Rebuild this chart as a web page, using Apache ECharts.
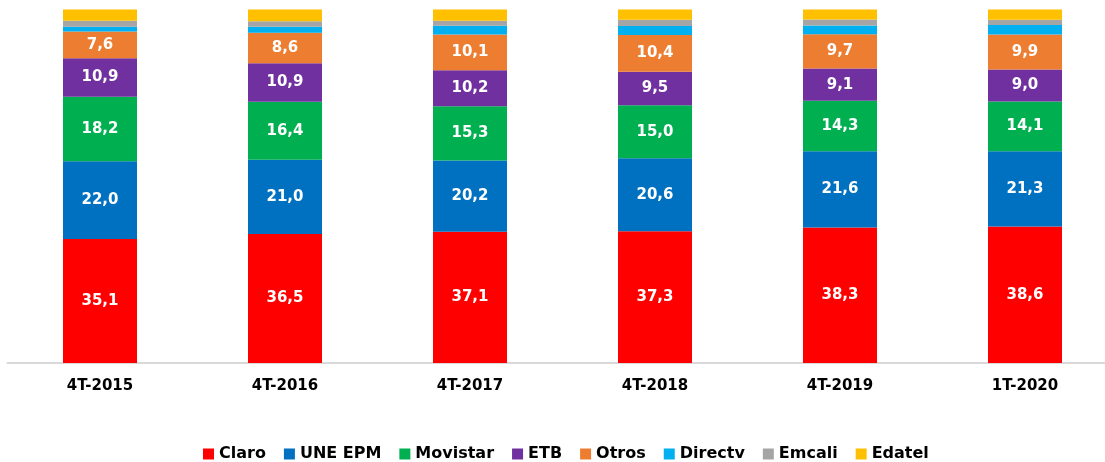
<!DOCTYPE html>
<html><head><meta charset="utf-8">
<script src="https://cdn.jsdelivr.net/npm/echarts@6/dist/echarts.min.js"></script>
<style>html,body{margin:0;padding:0;background:#fff;overflow:hidden}#c{width:1120px;height:462px}</style>
</head><body><div id="c"></div>
<script>
const categories = ['4T-2015','4T-2016','4T-2017','4T-2018','4T-2019','1T-2020'];
const claro    = [35.1, 36.5, 37.1, 37.3, 38.3, 38.6];
const uneEpm   = [22.0, 21.0, 20.2, 20.6, 21.6, 21.3];
const movistar = [18.2, 16.4, 15.3, 15.0, 14.3, 14.1];
const etb      = [10.9, 10.9, 10.2, 9.5, 9.1, 9.0];
const otros    = [7.6, 8.6, 10.1, 10.4, 9.7, 9.9];
const directv  = [1.3, 1.7, 2.5, 2.5, 2.5, 2.7];
const emcali   = [1.7, 1.6, 1.4, 1.8, 1.7, 1.5];
const edatel   = [3.2, 3.3, 3.2, 2.9, 2.8, 2.9];

const FONT = 'DejaVu Sans';
const lbl = {show:true, position:'inside', color:'#fff', fontFamily:FONT, fontWeight:'bold', fontSize:15,
  formatter: p => p.value.toFixed(1).replace('.', ',')};
function s(name, data, color, showLabel){
  return {name, type:'bar', stack:'t', data, barWidth:74,
    itemStyle:{color}, label: showLabel ? lbl : {show:false}, emphasis:{disabled:true}};
}
const chart = echarts.init(document.getElementById('c'));
chart.setOption({
  animation:false,
  grid:{left:7.5, right:2.5, top:9.5, bottom:99},
  legend:{top:441, left:198, itemWidth:11, itemHeight:11, itemGap:18, icon:'rect',
    textStyle:{fontFamily:FONT, fontWeight:'bold', fontSize:16, color:'#000'},
    data:['Claro','UNE EPM','Movistar','ETB','Otros','Directv','Emcali','Edatel']},
  xAxis:{type:'category', data:categories,
    axisLine:{lineStyle:{color:'#D9D9D9', width:2}}, axisTick:{show:false},
    axisLabel:{color:'#000', fontFamily:FONT, fontWeight:'bold', fontSize:15, margin:16}},
  yAxis:{type:'value', min:0, max:100, show:false, splitLine:{show:false}},
  series:[
    s('Claro', claro, '#FF0000', true),
    s('UNE EPM', uneEpm, '#0070C0', true),
    s('Movistar', movistar, '#00B050', true),
    s('ETB', etb, '#7030A0', true),
    s('Otros', otros, '#ED7D31', true),
    s('Directv', directv, '#00B0F0', false),
    s('Emcali', emcali, '#A5A5A5', false),
    s('Edatel', edatel, '#FFC000', false)
  ]
});
</script></body></html>
